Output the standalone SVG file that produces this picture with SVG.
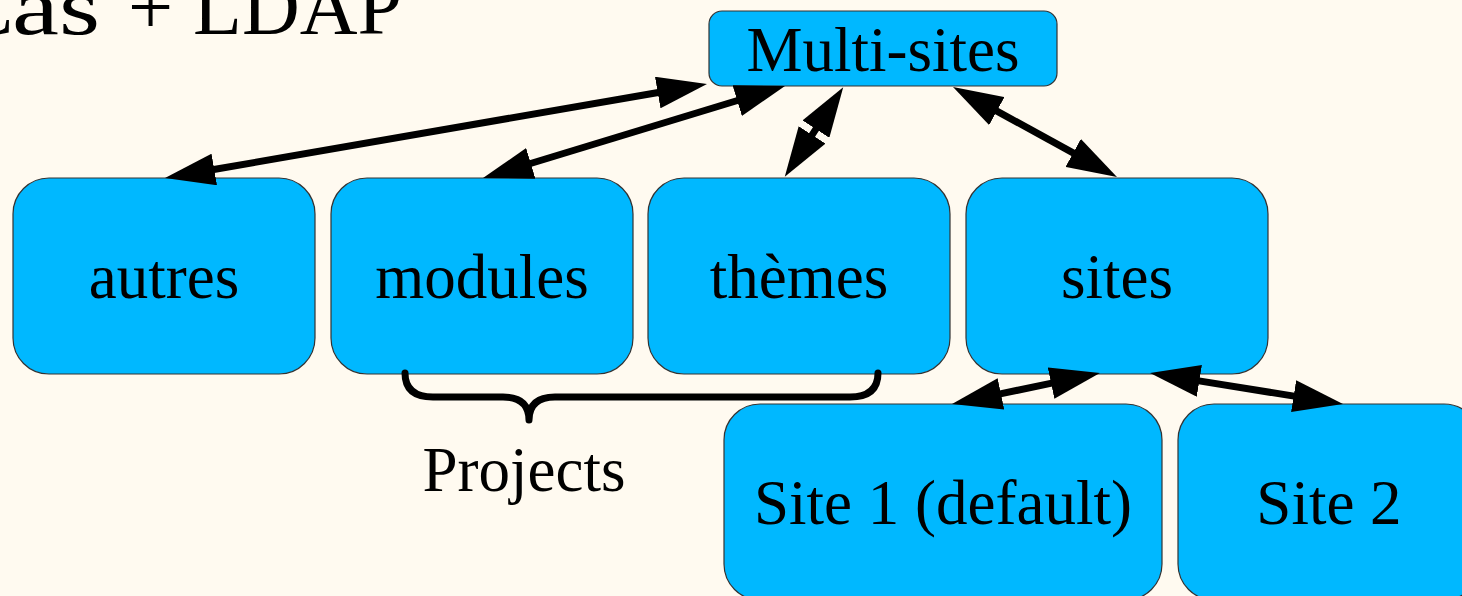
<svg xmlns="http://www.w3.org/2000/svg" width="1462" height="596" viewBox="0 0 1462 596">
<style>
.bg{fill:#fffaf0}
.node rect{fill:#00b8ff;stroke:#333;stroke-width:1.2}
.lbl{font-family:"Liberation Serif","Times New Roman",serif;font-size:63px;fill:#000;text-anchor:middle}
.title{font-family:"Liberation Serif","Times New Roman",serif;font-size:80px;fill:#000}
.conn{stroke:#000;stroke-width:7;fill:none;marker-start:url(#ah);marker-end:url(#ah)}
.brace{stroke:#000;stroke-width:7;fill:none;stroke-linecap:round;stroke-linejoin:round}
.gap{stroke:#fffaf0;stroke-width:4;stroke-linecap:butt}
</style>
<defs>
<marker id="ah" viewBox="0 0 50 32" markerWidth="50" markerHeight="32" refX="2" refY="16" markerUnits="userSpaceOnUse" orient="auto-start-reverse">
<path d="M0,0 L50,16 L0,32 Z" fill="#000"/>
</marker>
</defs>
<rect class="bg" x="0" y="0" width="1462" height="596"/>
<text class="title" y="34"><tspan x="-40">C</tspan><tspan x="12" textLength="88" lengthAdjust="spacingAndGlyphs">as</tspan><tspan x="108"> + LDAP</tspan></text>
<g id="multisites" class="node"><rect x="709" y="11" width="348" height="75" rx="13"/><text class="lbl" x="883" y="71">Multi-sites</text></g>
<g id="autres" class="node"><rect x="13" y="178" width="302" height="196" rx="36"/><text class="lbl" x="164" y="298">autres</text></g>
<g id="modules" class="node"><rect x="331" y="178" width="302" height="196" rx="36"/><text class="lbl" x="482" y="298">modules</text></g>
<g id="themes" class="node"><rect x="648" y="178" width="302" height="196" rx="36"/><text class="lbl" x="799" y="298">thèmes</text></g>
<g id="sites" class="node"><rect x="966" y="178" width="302" height="196" rx="36"/><text class="lbl" x="1117" y="298">sites</text></g>
<g id="site1" class="node"><rect x="724" y="404" width="438" height="196" rx="36"/><text class="lbl" x="943" y="524">Site 1 (default)</text></g>
<g id="site2" class="node"><rect x="1178" y="404" width="302" height="196" rx="36"/><text class="lbl" x="1329" y="524">Site 2</text></g>
<g id="connectors">
<line class="conn" x1="659.7" y1="92.2" x2="212.3" y2="169.8"/>
<line class="conn" x1="739.1" y1="100" x2="528.9" y2="164"/>
<line class="conn" x1="817" y1="127.4" x2="811" y2="136.6"/>
<line class="gap" x1="803.1" y1="125" x2="810.6" y2="129.8"/>
<line class="gap" x1="817.4" y1="134.2" x2="824.9" y2="139"/>
<line class="conn" x1="995.1" y1="110.1" x2="1074.9" y2="153.9"/>
<line class="conn" x1="1053" y1="382.8" x2="999" y2="394.2"/>
<line class="conn" x1="1197.4" y1="380.6" x2="1295.6" y2="396.4"/>
</g>
<g id="projects">
<path class="brace" d="M405,373 Q405,397 433,397 L503,397 Q529,397 529,420 Q529,397 555,397 L850,397 Q878,397 878,373"/>
<text class="lbl" x="524" y="491">Projects</text>
</g>
</svg>
